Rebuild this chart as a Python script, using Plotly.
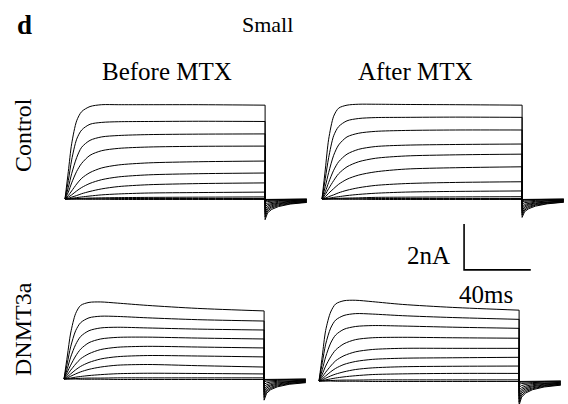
import plotly.graph_objects as go

# ---------------------------------------------------------------------------
# Whole-cell K+ currents, small neurons: voltage-step families (nA vs ms)
# ---------------------------------------------------------------------------

# sample times during the depolarising step (ms from step onset)
STEP_T = [0, 2, 4, 7, 10, 15, 22, 32, 50, 80, 120]
# sample times of the tail current after the step (ms from step onset)
TAIL_T = [120, 121.5, 124, 128, 135, 145]

# Control, before MTX
ctrl_before_step = [
    [0, 1.2, 2.4, 3.4, 3.8, 4.02, 4.1, 4.1, 4.1, 4.1, 4.08],
    [0, 0.8, 1.7, 2.6, 3.0, 3.25, 3.33, 3.36, 3.37, 3.38, 3.37],
    [0, 0.5, 1.1, 1.8, 2.25, 2.55, 2.7, 2.76, 2.8, 2.82, 2.83],
    [0, 0.3, 0.7, 1.2, 1.55, 1.9, 2.1, 2.2, 2.26, 2.29, 2.3],
    [0, 0.15, 0.35, 0.65, 0.9, 1.15, 1.35, 1.48, 1.57, 1.62, 1.65],
    [0, 0.08, 0.18, 0.35, 0.5, 0.68, 0.84, 0.96, 1.05, 1.1, 1.13],
    [0, 0.03, 0.08, 0.15, 0.23, 0.33, 0.44, 0.54, 0.62, 0.67, 0.7],
    [0, 0.01, 0.03, 0.06, 0.09, 0.13, 0.18, 0.22, 0.26, 0.28, 0.3],
    [0, 0.0, 0.01, 0.02, 0.03, 0.04, 0.05, 0.06, 0.07, 0.08, 0.09],
    [0, 0.0, 0.0, 0.0, 0.01, 0.01, 0.01, 0.02, 0.02, 0.02, 0.02],
    [0, 0.0, 0.0, 0.0, -0.01, -0.01, -0.01, -0.02, -0.02, -0.02, -0.02],
]
ctrl_before_tail = [
    [-0.9, -0.6, -0.45, -0.33, -0.22, -0.15],
    [-0.78, -0.52, -0.39, -0.29, -0.2, -0.13],
    [-0.66, -0.45, -0.34, -0.25, -0.17, -0.12],
    [-0.55, -0.38, -0.29, -0.21, -0.15, -0.1],
    [-0.44, -0.31, -0.24, -0.18, -0.12, -0.08],
    [-0.34, -0.24, -0.19, -0.14, -0.1, -0.07],
    [-0.24, -0.18, -0.14, -0.1, -0.07, -0.05],
    [-0.14, -0.11, -0.09, -0.07, -0.05, -0.03],
    [-0.08, -0.06, -0.05, -0.04, -0.03, -0.02],
    [-0.04, -0.03, -0.03, -0.02, -0.02, -0.01],
    [-0.02, -0.02, -0.01, -0.01, -0.01, 0.0],
]

# Control, after MTX
ctrl_after_step = [
    [0, 1.3, 2.6, 3.6, 3.95, 4.08, 4.12, 4.12, 4.11, 4.1, 4.08],
    [0, 0.9, 1.8, 2.75, 3.15, 3.4, 3.5, 3.54, 3.55, 3.56, 3.55],
    [0, 0.55, 1.15, 1.9, 2.35, 2.7, 2.86, 2.94, 2.98, 3.0, 3.0],
    [0, 0.32, 0.72, 1.25, 1.62, 1.95, 2.16, 2.28, 2.34, 2.37, 2.39],
    [0, 0.2, 0.45, 0.8, 1.1, 1.4, 1.62, 1.77, 1.87, 1.92, 1.95],
    [0, 0.1, 0.25, 0.45, 0.64, 0.86, 1.04, 1.18, 1.3, 1.36, 1.4],
    [0, 0.04, 0.1, 0.18, 0.27, 0.38, 0.49, 0.59, 0.67, 0.72, 0.75],
    [0, 0.01, 0.03, 0.07, 0.1, 0.15, 0.2, 0.25, 0.3, 0.33, 0.35],
    [0, 0.0, 0.01, 0.02, 0.03, 0.04, 0.05, 0.07, 0.08, 0.09, 0.1],
    [0, 0.0, 0.0, 0.0, 0.01, 0.01, 0.01, 0.02, 0.02, 0.02, 0.02],
    [0, 0.0, 0.0, 0.0, -0.01, -0.01, -0.01, -0.02, -0.02, -0.02, -0.02],
]
ctrl_after_tail = [
    [-0.8, -0.55, -0.42, -0.31, -0.21, -0.14],
    [-0.7, -0.48, -0.37, -0.27, -0.19, -0.13],
    [-0.6, -0.42, -0.32, -0.24, -0.16, -0.11],
    [-0.5, -0.35, -0.27, -0.2, -0.14, -0.09],
    [-0.41, -0.29, -0.23, -0.17, -0.12, -0.08],
    [-0.32, -0.23, -0.18, -0.13, -0.09, -0.06],
    [-0.22, -0.16, -0.13, -0.1, -0.07, -0.05],
    [-0.13, -0.1, -0.08, -0.06, -0.04, -0.03],
    [-0.07, -0.05, -0.04, -0.03, -0.03, -0.02],
    [-0.04, -0.03, -0.03, -0.02, -0.02, -0.01],
    [-0.02, -0.02, -0.01, -0.01, -0.01, 0.0],
]

# DNMT3a, before MTX
dnmt_before_step = [
    [0, 1.0, 2.0, 2.85, 3.2, 3.33, 3.35, 3.3, 3.2, 3.07, 2.96],
    [0, 0.7, 1.4, 2.1, 2.45, 2.66, 2.73, 2.72, 2.66, 2.58, 2.52],
    [0, 0.45, 0.95, 1.5, 1.85, 2.1, 2.22, 2.25, 2.22, 2.17, 2.13],
    [0, 0.3, 0.6, 1.0, 1.3, 1.58, 1.74, 1.81, 1.82, 1.78, 1.74],
    [0, 0.18, 0.38, 0.65, 0.88, 1.1, 1.28, 1.38, 1.42, 1.39, 1.35],
    [0, 0.1, 0.22, 0.4, 0.55, 0.72, 0.87, 0.97, 1.02, 1.0, 0.96],
    [0, 0.05, 0.12, 0.22, 0.31, 0.42, 0.52, 0.6, 0.63, 0.58, 0.52],
    [0, 0.02, 0.04, 0.08, 0.11, 0.15, 0.19, 0.23, 0.25, 0.24, 0.22],
    [0, 0.0, 0.01, 0.02, 0.03, 0.04, 0.04, 0.05, 0.05, 0.05, 0.05],
    [0, 0.0, 0.0, 0.0, -0.01, -0.01, -0.01, -0.02, -0.02, -0.02, -0.02],
]
dnmt_before_tail = [
    [-0.92, -0.62, -0.46, -0.34, -0.23, -0.16],
    [-0.8, -0.54, -0.41, -0.3, -0.2, -0.14],
    [-0.68, -0.47, -0.36, -0.26, -0.18, -0.12],
    [-0.56, -0.39, -0.3, -0.22, -0.15, -0.1],
    [-0.45, -0.32, -0.25, -0.18, -0.12, -0.08],
    [-0.34, -0.25, -0.19, -0.14, -0.1, -0.07],
    [-0.23, -0.17, -0.13, -0.1, -0.07, -0.05],
    [-0.12, -0.09, -0.07, -0.06, -0.04, -0.03],
    [-0.05, -0.04, -0.03, -0.03, -0.02, -0.01],
    [-0.02, -0.02, -0.01, -0.01, -0.01, 0.0],
]

# DNMT3a, after MTX
dnmt_after_step = [
    [0, 1.1, 2.2, 3.0, 3.35, 3.49, 3.51, 3.45, 3.33, 3.2, 3.08],
    [0, 0.8, 1.6, 2.3, 2.65, 2.85, 2.93, 2.91, 2.84, 2.76, 2.68],
    [0, 0.5, 1.05, 1.65, 2.0, 2.25, 2.37, 2.41, 2.39, 2.34, 2.29],
    [0, 0.3, 0.65, 1.05, 1.35, 1.62, 1.8, 1.88, 1.9, 1.88, 1.86],
    [0, 0.18, 0.38, 0.65, 0.88, 1.1, 1.27, 1.37, 1.42, 1.42, 1.42],
    [0, 0.1, 0.22, 0.4, 0.55, 0.72, 0.85, 0.94, 0.99, 1.01, 1.03],
    [0, 0.05, 0.12, 0.22, 0.3, 0.4, 0.5, 0.57, 0.62, 0.64, 0.65],
    [0, 0.02, 0.05, 0.09, 0.13, 0.18, 0.23, 0.28, 0.31, 0.33, 0.33],
    [0, 0.0, 0.01, 0.02, 0.03, 0.04, 0.04, 0.05, 0.05, 0.05, 0.05],
    [0, 0.0, 0.0, 0.0, -0.01, -0.01, -0.01, -0.02, -0.02, -0.02, -0.02],
]
dnmt_after_tail = [
    [-1.05, -0.7, -0.52, -0.38, -0.26, -0.18],
    [-0.92, -0.62, -0.46, -0.34, -0.23, -0.16],
    [-0.78, -0.53, -0.4, -0.3, -0.2, -0.14],
    [-0.65, -0.45, -0.34, -0.25, -0.17, -0.12],
    [-0.52, -0.37, -0.28, -0.21, -0.14, -0.1],
    [-0.4, -0.29, -0.22, -0.16, -0.11, -0.08],
    [-0.27, -0.2, -0.15, -0.11, -0.08, -0.06],
    [-0.15, -0.11, -0.09, -0.07, -0.05, -0.03],
    [-0.06, -0.05, -0.04, -0.03, -0.02, -0.01],
    [-0.02, -0.02, -0.01, -0.01, -0.01, 0.0],
]

# scale bar
SCALE_T_MS = 40
SCALE_I_NA = 2

# ---------------------------------------------------------------------------
# layout geometry (pixels of the 568 x 404 page)
# ---------------------------------------------------------------------------
W, H = 568, 404
PX_PER_MS = 66.7 / 40
PX_PER_NA = 23.0

# name: (step-onset x px, baseline y px, x px domain, y px domain)
PANELS = {
    "1": (65, 199, (50, 312), (86, 226)),
    "2": (322, 199, (312, 568), (86, 226)),
    "3": (64, 379, (50, 312), (226, 404)),
    "4": (319, 381, (312, 568), (214, 404)),
}
DATA = {
    "1": (ctrl_before_step, ctrl_before_tail),
    "2": (ctrl_after_step, ctrl_after_tail),
    "3": (dnmt_before_step, dnmt_before_tail),
    "4": (dnmt_after_step, dnmt_after_tail),
}

fig = go.Figure()
LINE = dict(color="black", width=1)

for key, (x0px, base_py, (dx0, dx1), (dy0, dy1)) in PANELS.items():
    suffix = "" if key == "1" else key
    xa, ya = "x" + suffix, "y" + suffix
    steps, tails = DATA[key]
    for step, tail in zip(steps, tails):
        fig.add_trace(go.Scatter(
            x=STEP_T, y=step, mode="lines", xaxis=xa, yaxis=ya,
            line=dict(LINE, shape="spline", smoothing=0.8),
            hoverinfo="skip", showlegend=False))
        fig.add_trace(go.Scatter(
            x=[STEP_T[-1]] + TAIL_T, y=[step[-1]] + tail, mode="lines",
            xaxis=xa, yaxis=ya, line=LINE,
            hoverinfo="skip", showlegend=False))

    xr = [(dx0 - x0px) / PX_PER_MS, (dx1 - x0px) / PX_PER_MS]
    yr = [(base_py - dy1) / PX_PER_NA, (base_py - dy0) / PX_PER_NA]
    axis_common = dict(visible=False, showgrid=False, zeroline=False, fixedrange=True)
    fig.layout["xaxis" + suffix] = dict(
        axis_common, domain=[dx0 / W, dx1 / W], range=xr, anchor=ya)
    fig.layout["yaxis" + suffix] = dict(
        axis_common, domain=[1 - dy1 / H, 1 - dy0 / H], range=yr, anchor=xa)

# scale bar, drawn in the DNMT3a / after-MTX panel's units
bar_t0, bar_i0 = 87, 4.83
fig.add_trace(go.Scatter(
    x=[bar_t0, bar_t0, bar_t0 + SCALE_T_MS],
    y=[bar_i0 + SCALE_I_NA, bar_i0, bar_i0],
    mode="lines", xaxis="x4", yaxis="y4",
    line=dict(color="black", width=1.6), hoverinfo="skip", showlegend=False))

SERIF = "Liberation Serif, Times New Roman, serif"


def label(text, px, py, size, angle=0, bold=False):
    fig.add_annotation(
        x=px / W, y=1 - py / H, xref="paper", yref="paper",
        text=f"<b>{text}</b>" if bold else text, showarrow=False,
        textangle=angle, xanchor="center", yanchor="middle",
        font=dict(family=SERIF, size=size, color="black"))


label("d", 24, 25, 27, bold=True)
label("Small", 267, 24, 22)
label("Before MTX", 167, 72, 25)
label("After MTX", 415, 72, 25)
label("Control", 23, 135, 24, angle=-90)
label("DNMT3a", 23, 329, 24, angle=-90)
label(f"{SCALE_I_NA}nA", 428, 255, 25)
label(f"{SCALE_T_MS}ms", 486, 294, 25)

fig.update_layout(
    width=W, height=H, margin=dict(l=0, r=0, t=0, b=0),
    paper_bgcolor="white", plot_bgcolor="rgba(0,0,0,0)",
    showlegend=False)

fig.write_html("out.html")
